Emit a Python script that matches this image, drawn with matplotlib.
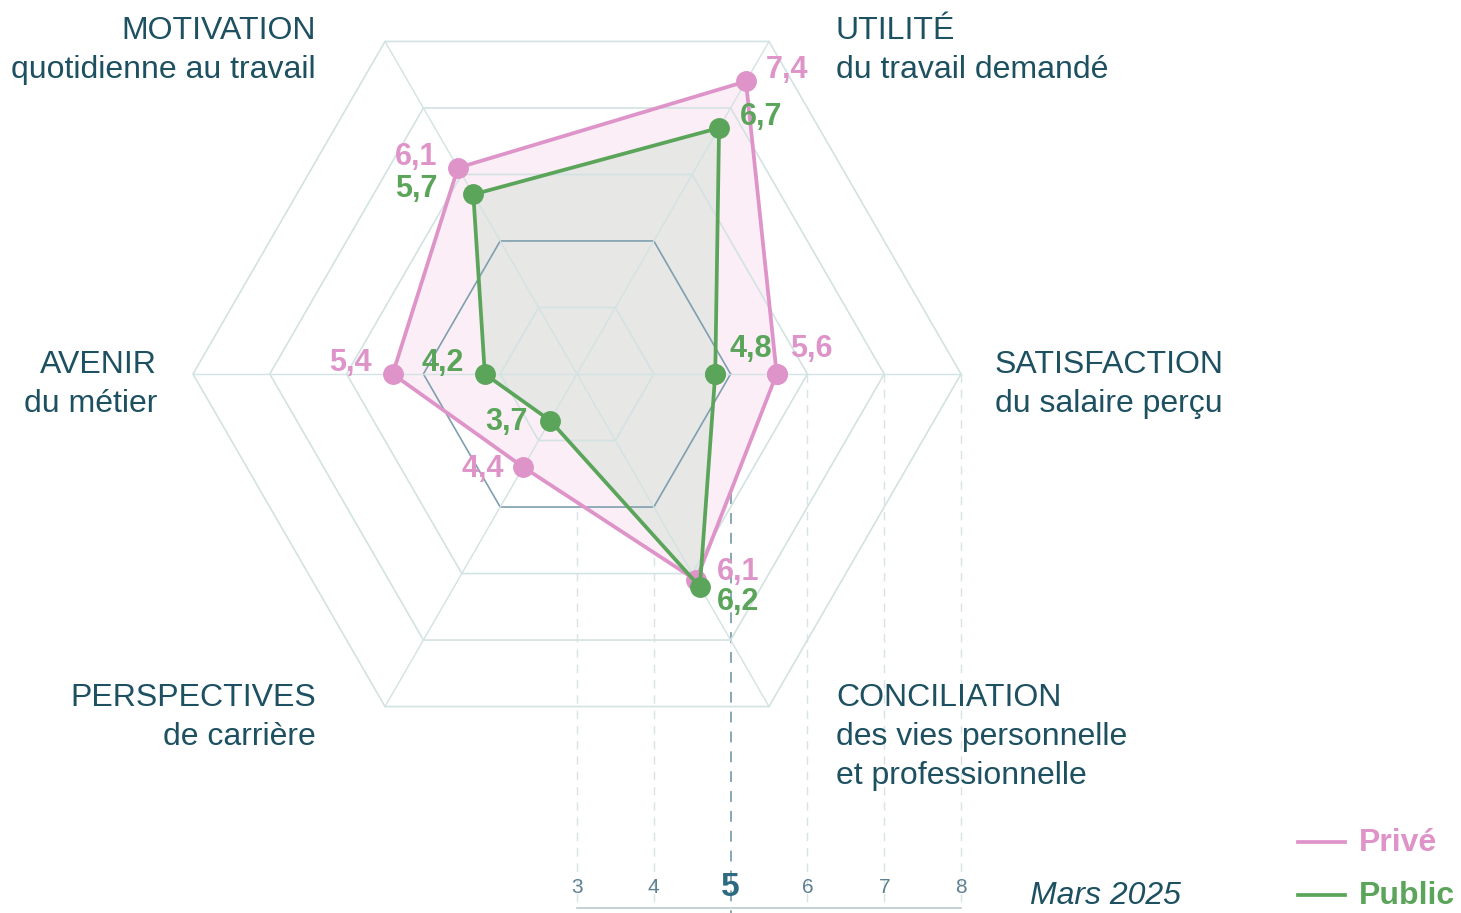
import numpy as np
import matplotlib.pyplot as plt

# axes in anticlockwise order, starting at 3 o'clock
AXES = ["SATISFACTION", "UTILITÉ", "MOTIVATION", "AVENIR", "PERSPECTIVES", "CONCILIATION"]
SUBTITLES = ["du salaire perçu", "du travail demandé", "quotidienne au travail",
             "du métier", "de carrière", "des vies personnelle\net professionnelle"]
PRIVE = [5.6, 7.4, 6.1, 5.4, 4.4, 6.1]
PUBLIC = [4.8, 6.7, 5.7, 4.2, 3.7, 6.2]
SCALE_TICKS = [3, 4, 5, 6, 7, 8]
GRID_LEVELS = [4, 5, 6, 7, 8]
DATE_LABEL = "Mars 2025"

PINK = "#de94c8"
GREEN = "#5ba55b"
TEAL = "#1d5060"
GRID = "#d3e2e2"
GRID_DARK = "#7f9fae"
BASE = 3  # value at the centre
W, H = 1461, 913
CX, CY, UNIT = 577, 374, 76.8  # pixel centre and pixels per unit

plt.rcParams["font.family"] = ["Liberation Sans", "DejaVu Sans"]

fig = plt.figure(figsize=(W / 100, H / 100), dpi=100)
ax = fig.add_axes([0, 0, 1, 1])
ax.set_xlim(-CX / UNIT, (W - CX) / UNIT)
ax.set_ylim(-(H - CY) / UNIT, CY / UNIT)
ax.axis("off")

angles = np.deg2rad(np.arange(6) * 60)


def polar(values):
    r = np.asarray(values, dtype=float) - BASE
    return r * np.cos(angles), r * np.sin(angles)


def close(a):
    return np.append(a, a[0])


# vertical dashed guides down to the scale
for t in SCALE_TICKS:
    x = t - BASE
    dark = t == 5
    ax.plot([x, x], [0, -(H - CY) / UNIT if dark else -(908 - CY) / UNIT],
            color=GRID_DARK if dark else "#d8e3e3", lw=1.3 if dark else 1.0,
            ls=(0, (6, 5)), zorder=0)

# hexagon grid and spokes
for lvl in GRID_LEVELS:
    hx, hy = polar([lvl] * 6)
    ax.plot(close(hx), close(hy), color=GRID_DARK if lvl == 5 else GRID,
            lw=1.2, zorder=3)
ox, oy = polar([GRID_LEVELS[-1]] * 6)
for x, y in zip(ox, oy):
    ax.plot([0, x], [0, y], color=GRID, lw=1.0, zorder=3)

# series
px, py = polar(PRIVE)
gx, gy = polar(PUBLIC)
ax.fill(px, py, color="#fbeef6", zorder=1)
ax.fill(gx, gy, color="#e2e6e2", alpha=0.8, zorder=2)
ax.plot(close(px), close(py), color=PINK, lw=2.7, marker="o", ms=14, zorder=5)
ax.plot(close(gx), close(gy), color=GREEN, lw=2.7, marker="o", ms=14, zorder=6)

# value labels (offsets in points)
prive_off = [(10, 18, "left"), (14, 8, "left"), (-15, 8, "right"),
             (-15, 8, "right"), (-14, -1, "right"), (15, 6, "left")]
public_off = [(10, 18, "left"), (15, 8, "left"), (-26, 4, "right"),
              (-15, 8, "right"), (-16, -1, "right"), (12, -11, "left")]
for vals, xs, ys, offs, col in [(PRIVE, px, py, prive_off, PINK),
                                (PUBLIC, gx, gy, public_off, GREEN)]:
    for v, x, y, (dx, dy, ha) in zip(vals, xs, ys, offs):
        ax.annotate(f"{v:.1f}".replace(".", ","), (x, y), xytext=(dx, dy),
                    textcoords="offset points", ha=ha, va="center",
                    fontsize=22, fontweight="bold", color=col, zorder=7)

# axis titles (pixel anchors)
title_pos = [(995, 365, "left"), (836, 31, "left"), (316, 31, "right"),
             (157, 365, "right"), (316, 698, "right"), (836, 698, "left")]
for name, sub, (x, y, ha) in zip(AXES, SUBTITLES, title_pos):
    fig.text(x / W, 1 - y / H, name, ha=ha, va="center", fontsize=23, color=TEAL)
    for i, line in enumerate(sub.split("\n")):
        fig.text(x / W, 1 - (y + 39 * (i + 1)) / H, line, ha=ha, va="center",
                 fontsize=23, color=TEAL)

# bottom scale
ybase = -(908 - CY) / UNIT
ax.plot([SCALE_TICKS[0] - BASE, SCALE_TICKS[-1] - BASE], [ybase, ybase],
        color="#b9cccc", lw=1.2, zorder=1)
for t in SCALE_TICKS:
    big = t == 5
    ax.text(t - BASE, -(887 - CY) / UNIT, str(t), ha="center", va="center",
            fontsize=24 if big else 15, fontweight="bold" if big else "normal",
            color="#2b6a80" if big else "#5f8190")

fig.text(1105 / W, 1 - 896 / H, DATE_LABEL, ha="center", va="center",
         fontsize=23, style="italic", color=TEAL)

# legend
for lab, col, y in [("Privé", PINK, 842), ("Public", GREEN, 895)]:
    fig.add_artist(plt.Line2D([1298 / W, 1345 / W], [1 - y / H] * 2, color=col, lw=2.7))
    fig.text(1359 / W, 1 - (y + 1) / H, lab, ha="left", va="center", fontsize=23,
             fontweight="bold", color=col)

fig.savefig("out.png", dpi=100, facecolor="white")
